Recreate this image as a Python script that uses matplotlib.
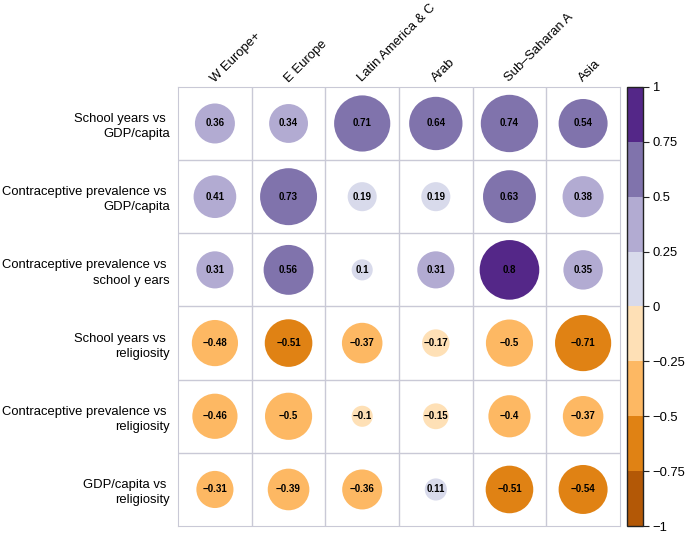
import numpy as np
import matplotlib.pyplot as plt
from matplotlib.colors import ListedColormap, BoundaryNorm
from matplotlib.colorbar import ColorbarBase

plt.rcParams['font.family'] = ['Liberation Sans', 'DejaVu Sans']

regions = ['W Europe+', 'E Europe', 'Latin America & C', 'Arab', 'Sub\u2013Saharan A', 'Asia']
pairs = ['School years vs \nGDP/capita',
         'Contraceptive prevalence vs \nGDP/capita',
         'Contraceptive prevalence vs \nschool y ears',
         'School years vs \nreligiosity',
         'Contraceptive prevalence vs \nreligiosity',
         'GDP/capita vs \nreligiosity']

# correlations, one row per pair
school_gdp = [0.36, 0.34, 0.71, 0.64, 0.74, 0.54]
contra_gdp = [0.41, 0.73, 0.19, 0.19, 0.63, 0.38]
contra_school = [0.31, 0.56, 0.10, 0.31, 0.80, 0.35]
school_rel = [-0.48, -0.51, -0.37, -0.17, -0.50, -0.71]
contra_rel = [-0.46, -0.50, -0.10, -0.15, -0.40, -0.37]
gdp_rel = [-0.31, -0.39, -0.36, 0.11, -0.51, -0.54]

r = np.array([school_gdp, contra_gdp, contra_school, school_rel, contra_rel, gdp_rel])

levels = [-1, -0.75, -0.5, -0.25, 0, 0.25, 0.5, 0.75, 1]
colors = ['#b35806', '#e08214', '#fdb863', '#fee0b6',
          '#d8daeb', '#b2abd2', '#8073ac', '#542788']
cmap = ListedColormap(colors)
norm = BoundaryNorm(levels, cmap.N)

def pick(v):
    # bands closed towards zero (-0.5 sits in the lighter band)
    for i in range(len(levels) - 1):
        lo, hi = levels[i], levels[i + 1]
        if (v > 0 and lo < v <= hi) or (v <= 0 and lo <= v < hi):
            return colors[i]
    return colors[-1]

fig = plt.figure(figsize=(6.85, 5.33), dpi=100)
ax = fig.add_axes([0.260, 0.013, 0.645, 0.824])

nr, nc = r.shape
ax.set_xlim(0, nc)
ax.set_ylim(nr, 0)

for i in range(1, nc):
    ax.axvline(i, color='#c9c9d6', lw=1.0)
for j in range(1, nr):
    ax.axhline(j, color='#c9c9d6', lw=1.0)

# marker diameter in points ~ 48*sqrt(|r|)
xx, yy = np.meshgrid(np.arange(nc) + 0.5, np.arange(nr) + 0.5)
sizes = (48.0 ** 2) * np.abs(r)
cols = [[pick(v) for v in row] for row in r]
ax.scatter(xx.ravel(), yy.ravel(), s=sizes.ravel(),
           c=np.array(cols).ravel(), edgecolors='none', zorder=3)

for j in range(nr):
    for i in range(nc):
        v = r[j, i]
        txt = ('%g' % v).replace('-', '\u2212')
        ax.text(i + 0.5, j + 0.5, txt, ha='center', va='center',
                fontsize=7, fontweight='bold', zorder=4)

ax.set_xticks([])
ax.set_yticks(np.arange(nr) + 0.5)
ax.set_yticklabels(pairs, fontsize=9.4, ha='right', multialignment='right',
                   linespacing=1.35)
ax.tick_params(axis='y', length=0, pad=6)
for s in ax.spines.values():
    s.set_color('#c9c9d6')

for i, name in enumerate(regions):
    ax.text(i + 0.5, -0.06, name, rotation=45, rotation_mode='anchor',
            ha='left', va='baseline', fontsize=9.4)

cax = fig.add_axes([0.915, 0.013, 0.023, 0.824])
cb = ColorbarBase(cax, cmap=cmap, norm=norm, boundaries=levels, ticks=levels)
cb.set_ticklabels(['\u22121', '\u22120.75', '\u22120.5', '\u22120.25', '0',
                   '0.25', '0.5', '0.75', '1'])
cax.tick_params(labelsize=9.4, length=4, width=0.8, color='#222222', pad=3)
cb.outline.set_edgecolor('#222222')
cb.outline.set_linewidth(1.0)

fig.savefig('out.png', dpi=100)
